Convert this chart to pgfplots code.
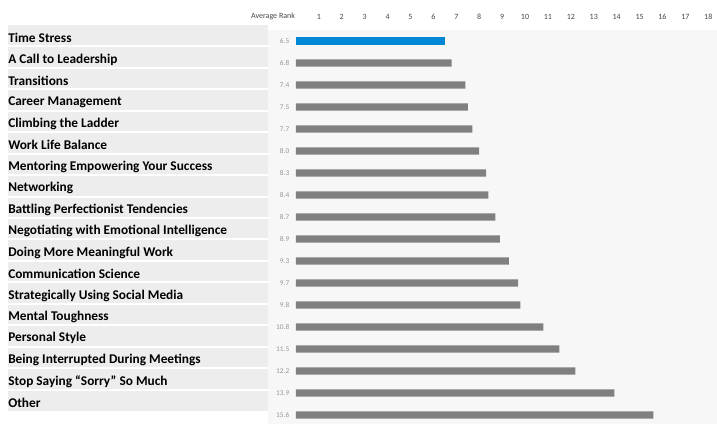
\documentclass[border=0pt]{standalone}
\usepackage{pgfplots}
\pgfplotsset{compat=1.18}
\usepackage{fontspec}
\setmainfont{Carlito}
\definecolor{barblue}{RGB}{0,136,212}
\definecolor{bargray}{RGB}{128,128,128}
\definecolor{bandfill}{RGB}{247,247,247}
\definecolor{bandline}{RGB}{232,232,232}
\definecolor{panelfill}{RGB}{237,237,237}
\definecolor{ticktext}{RGB}{70,70,70}
\definecolor{valtext}{RGB}{150,150,150}
\begin{document}
\begin{tikzpicture}[x=1pt,y=1pt]
\path (0,0) rectangle (537.75,318);
% left panel with the topic names
\begin{axis}[
    at={(6pt,9.75pt)}, anchor=south west,
    scale only axis, width=195pt, height=289.5pt,
    xmin=0, xmax=1, ymin=0.5, ymax=18.5, y dir=reverse,
    axis background/.style={fill=panelfill},
    axis line style={draw=none},
    major tick length=0pt, minor tick length=0pt,
    xtick=\empty,
    ytick={1,2,3,4,5,6,7,8,9,10,11,12,13,14,15,16,17,18},
    yticklabels={Time Stress, A Call to Leadership, Transitions, Career Management,
        Climbing the Ladder, Work Life Balance, Mentoring Empowering Your Success,
        Networking, Battling Perfectionist Tendencies,
        Negotiating with Emotional Intelligence, Doing More Meaningful Work,
        Communication Science, Strategically Using Social Media, Mental Toughness,
        Personal Style, Being Interrupted During Meetings,
        Stop Saying “Sorry” So Much, Other},
    yticklabel style={anchor=west, inner xsep=0pt, yshift=-1.8pt,
        font=\bfseries\fontsize{10}{11}\selectfont, text=black},
    minor ytick={1.5,2.5,...,17.5},
    yminorgrids=true,
    minor grid style={white, line width=1.5pt},
]
\addplot[draw=none, forget plot] coordinates {(0,1) (1,18)};
\end{axis}
% right panel with the bars
\begin{axis}[
    at={(201pt,0pt)}, anchor=south west,
    scale only axis, width=336.75pt, height=295.5pt,
    xmin=-1.22, xmax=18.38, ymin=0.5, ymax=18.41, y dir=reverse,
    axis background/.style={fill=bandfill},
    axis line style={draw=none},
    major tick length=0pt, minor tick length=0pt,
    /pgf/bar width=5.6pt, /pgf/bar shift=0pt,
    xticklabel pos=upper,
    xtick={-1.0,1,2,3,4,5,6,7,8,9,10,11,12,13,14,15,16,17,18},
    xticklabels={Average Rank,1,2,3,4,5,6,7,8,9,10,11,12,13,14,15,16,17,18},
    xticklabel style={font=\fontsize{6}{7}\selectfont, text=ticktext, yshift=4pt},
    ytick=\empty,
    minor ytick={1.5,2.5,...,17.5},
    yminorgrids=true,
    minor grid style={bandline, line width=0.75pt},
    clip=false,
]
\addplot[xbar, fill=barblue, draw=none] coordinates {(6.5,1)};
\addplot[xbar, fill=bargray, draw=none] coordinates {
    (6.8,2) (7.4,3) (7.5,4) (7.7,5) (8.0,6) (8.3,7) (8.4,8) (8.7,9)
    (8.9,10) (9.3,11) (9.7,12) (9.8,13) (10.8,14) (11.5,15) (12.2,16)
    (13.9,17) (15.6,18)};
\addplot[only marks, mark=none, nodes near coords, point meta=explicit symbolic,
    every node near coord/.style={anchor=east, xshift=-1.5pt,
        font=\fontsize{5.5}{6}\selectfont, text=valtext}]
    coordinates {
    (0,1) [6.5] (0,2) [6.8] (0,3) [7.4] (0,4) [7.5] (0,5) [7.7] (0,6) [8.0]
    (0,7) [8.3] (0,8) [8.4] (0,9) [8.7] (0,10) [8.9] (0,11) [9.3] (0,12) [9.7]
    (0,13) [9.8] (0,14) [10.8] (0,15) [11.5] (0,16) [12.2] (0,17) [13.9]
    (0,18) [15.6]};
\end{axis}
\end{tikzpicture}
\end{document}
